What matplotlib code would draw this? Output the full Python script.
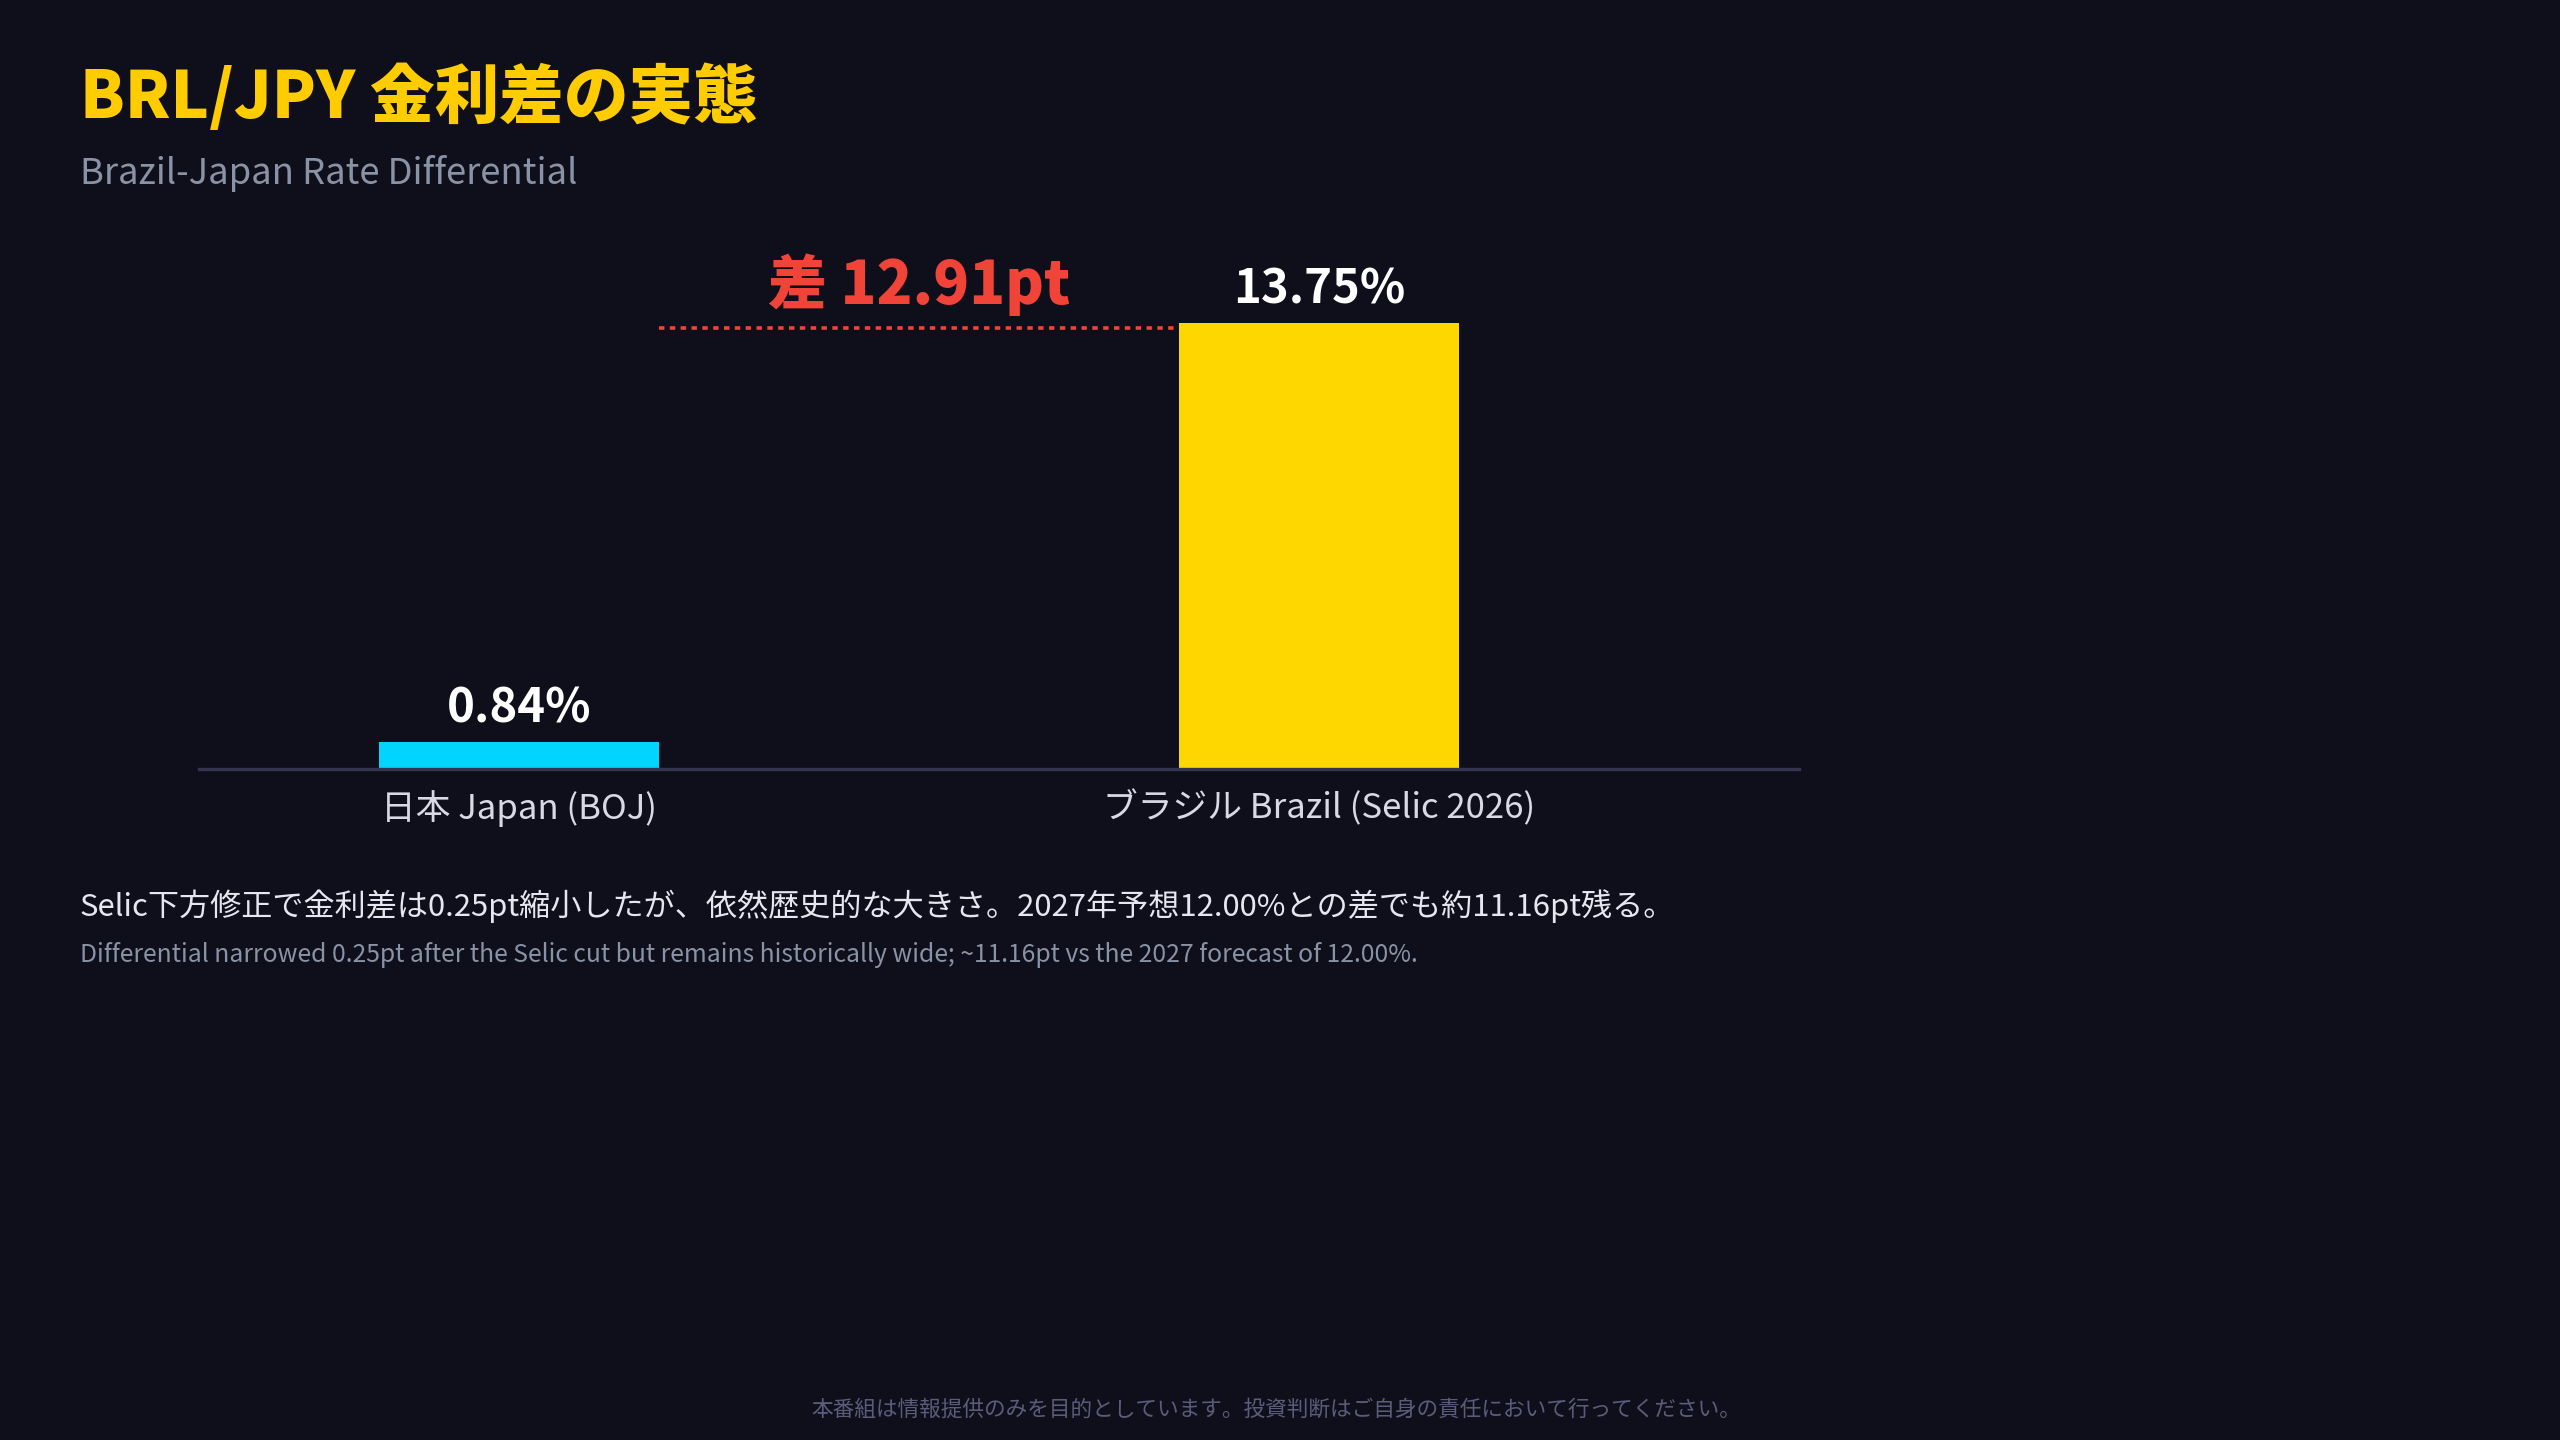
import matplotlib
matplotlib.use("Agg")
import matplotlib.pyplot as plt
from matplotlib.transforms import offset_copy

# data
categories = ["日本 Japan (BOJ)", "ブラジル Brazil (Selic 2026)"]
rates = [0.84, 13.75]
bar_colors = ["#00D4FF", "#FFD700"]

title = "BRL/JPY 金利差の実態"
subtitle = "Brazil-Japan Rate Differential"
note_jp = "Selic下方修正で金利差は0.25pt縮小したが、依然歴史的な大きさ。2027年予想12.00%との差でも約11.16pt残る。"
note_en = "Differential narrowed 0.25pt after the Selic cut but remains historically wide; ~11.16pt vs the 2027 forecast of 12.00%."
footer = "本番組は情報提供のみを目的としています。投資判断はご自身の責任において行ってください。"

BG = "#0F0F1C"
FONTS = ["Noto Sans CJK JP", "DejaVu Sans"]
plt.rcParams["font.family"] = FONTS

fig = plt.figure(figsize=(25.6, 14.4), dpi=100, facecolor=BG)
ax = fig.add_axes([0.0778, 0.466, 0.625, 0.3376])
ax.set_facecolor(BG)

x = list(range(len(rates)))
bw = 0.35
ax.bar(x, rates, width=bw, color=bar_colors, zorder=2)
ax.set_xlim(-0.4, 1.6)
ax.set_ylim(0, 15)

for xi, v in zip(x, rates):
    ax.annotate(f"{v:.2f}%", (xi, v), xytext=(0, 14), textcoords="offset points",
                ha="center", va="baseline", color="white", fontsize=34, fontweight="bold")

# spread line between the bars (drawn a touch below the bar top)
diff = rates[1] - rates[0]
line_tr = offset_copy(ax.transData, fig=fig, y=-3.5, units="points")
ax.plot([x[0] + bw / 2, x[1] - bw / 2], [rates[1], rates[1]], color="#F04438",
        lw=2.6, linestyle=(0, (1.5, 1.5)), zorder=3, transform=line_tr)
ax.annotate(f"差 {diff:.2f}pt", ((x[0] + x[1]) / 2, rates[1]), xytext=(0, 14),
            textcoords="offset points", ha="center", va="baseline",
            color="#F04438", fontsize=42.5, fontweight="heavy")

for s in ["top", "right", "left"]:
    ax.spines[s].set_visible(False)
ax.spines["bottom"].set_color("#34344E")
ax.spines["bottom"].set_linewidth(2.4)
ax.set_yticks([])
ax.set_xticks(x)
ax.set_xticklabels(categories, fontsize=25, color="#D8D8E6")
ax.tick_params(axis="x", length=0, pad=15)

fig.text(0.03125, 0.918, title, color="#FFCC00", fontsize=46.5, fontweight="heavy", va="baseline")
fig.text(0.03125, 0.872, subtitle, color="#8A93A6", fontsize=26.2, va="baseline")
fig.text(0.03125, 0.364, note_jp, color="#E6E6F0", fontsize=22.4, va="baseline")
fig.text(0.03125, 0.332, note_en, color="#8A93A6", fontsize=17.8, va="baseline")
fig.text(0.4985, 0.017, footer, color="#5C5C7A", fontsize=15.6, ha="center", va="baseline")

fig.savefig("out.png", dpi=100, facecolor=BG)
